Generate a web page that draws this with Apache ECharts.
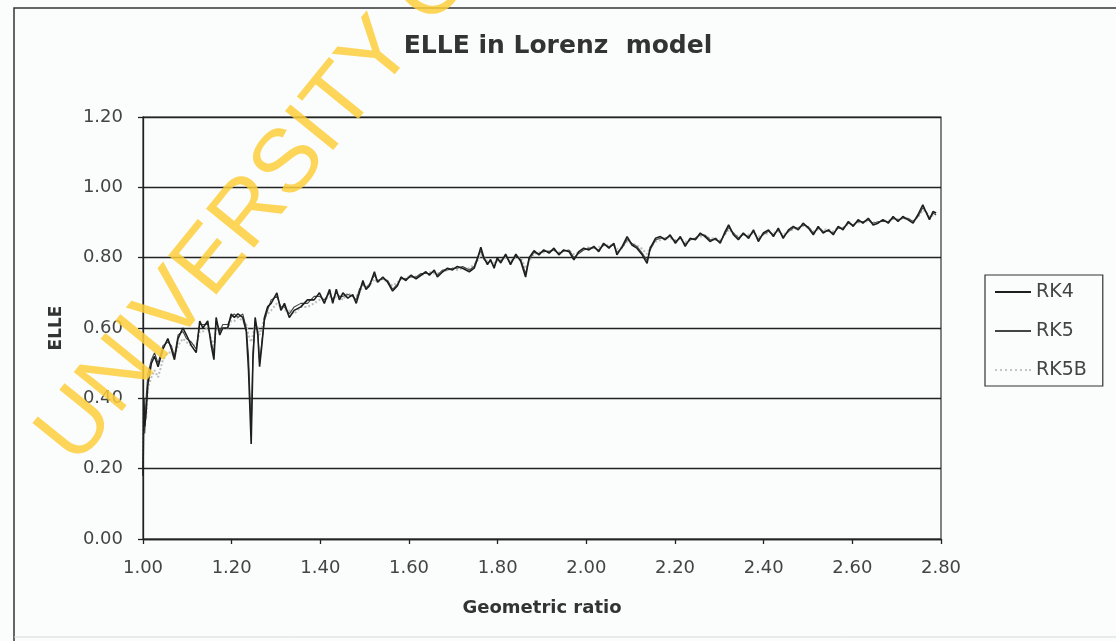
<!DOCTYPE html>
<html>
<head>
<meta charset="utf-8">
<script src="https://cdn.jsdelivr.net/npm/echarts@6/dist/echarts.min.js"></script>
<style>
html,body{margin:0;padding:0;background:#fbfdfc;}
#chart{width:1116px;height:641px;}
</style>
</head>
<body>
<div id="chart"></div>
<script>
const titleText = 'ELLE in Lorenz  model';
const xName = 'Geometric ratio';
const yName = 'ELLE';
const seriesNames = ['RK4', 'RK5', 'RK5B'];
const watermark = 'UNIVERSITY OF';

const ratio = [
  1.000, 1.002, 1.004, 1.007, 1.011, 1.019, 1.026, 1.034, 1.045, 1.056,
  1.064, 1.071, 1.079, 1.090, 1.098, 1.109, 1.120, 1.128, 1.135, 1.146,
  1.154, 1.160, 1.165, 1.173, 1.180, 1.191, 1.199, 1.206, 1.214, 1.225,
  1.233, 1.238, 1.244, 1.248, 1.253, 1.259, 1.263, 1.268, 1.274, 1.281,
  1.289, 1.302, 1.311, 1.319, 1.330, 1.341, 1.356, 1.371, 1.386, 1.398,
  1.409, 1.421, 1.428, 1.436, 1.443, 1.451, 1.462, 1.473, 1.481, 1.488,
  1.496, 1.503, 1.511, 1.522, 1.529, 1.541, 1.552, 1.563, 1.574, 1.582,
  1.593, 1.604, 1.616, 1.627, 1.638, 1.646, 1.657, 1.664, 1.676, 1.687,
  1.698, 1.709, 1.721, 1.736, 1.747, 1.754, 1.762, 1.769, 1.777, 1.784,
  1.792, 1.799, 1.807, 1.818, 1.829, 1.841, 1.852, 1.863, 1.871, 1.882,
  1.893, 1.904, 1.916, 1.927, 1.938, 1.949, 1.961, 1.972, 1.983, 1.994,
  2.006, 2.017, 2.028, 2.039, 2.051, 2.062, 2.069, 2.081, 2.092, 2.103,
  2.114, 2.126, 2.137, 2.144, 2.156, 2.167, 2.178, 2.189, 2.201, 2.212,
  2.223, 2.234, 2.246, 2.257, 2.268, 2.279, 2.291, 2.302, 2.313, 2.321,
  2.332, 2.343, 2.354, 2.366, 2.377, 2.388, 2.399, 2.411, 2.422, 2.433,
  2.444, 2.456, 2.467, 2.478, 2.489, 2.501, 2.512, 2.523, 2.534, 2.546,
  2.557, 2.568, 2.579, 2.591, 2.602, 2.613, 2.624, 2.636, 2.647, 2.658,
  2.669, 2.681, 2.692, 2.703, 2.714, 2.725, 2.737, 2.748, 2.759, 2.767,
  2.774, 2.782, 2.789
];

const rk4 = [
  0.18, 0.40, 0.32, 0.36, 0.44, 0.50, 0.52, 0.49, 0.54, 0.57,
  0.54, 0.51, 0.57, 0.60, 0.58, 0.55, 0.53, 0.62, 0.60, 0.62,
  0.55, 0.51, 0.63, 0.58, 0.60, 0.60, 0.64, 0.63, 0.64, 0.63,
  0.59, 0.48, 0.27, 0.51, 0.63, 0.58, 0.49, 0.55, 0.63, 0.66,
  0.67, 0.70, 0.65, 0.67, 0.63, 0.65, 0.66, 0.68, 0.68, 0.70,
  0.67, 0.71, 0.67, 0.71, 0.68, 0.70, 0.685, 0.695, 0.67, 0.70,
  0.735, 0.71, 0.72, 0.76, 0.73, 0.745, 0.73, 0.705, 0.72, 0.745,
  0.735, 0.75, 0.74, 0.75, 0.76, 0.75, 0.765, 0.745, 0.76, 0.77,
  0.765, 0.775, 0.77, 0.76, 0.77, 0.795, 0.83, 0.80, 0.78, 0.795,
  0.77, 0.80, 0.785, 0.81, 0.78, 0.81, 0.79, 0.745, 0.80, 0.82,
  0.808, 0.822, 0.813, 0.827, 0.808, 0.822, 0.817, 0.794, 0.817, 0.827,
  0.822, 0.832, 0.817, 0.841, 0.827, 0.841, 0.808, 0.832, 0.860, 0.836,
  0.827, 0.808, 0.784, 0.827, 0.855, 0.860, 0.851, 0.865, 0.841, 0.860,
  0.832, 0.855, 0.851, 0.870, 0.860, 0.846, 0.855, 0.841, 0.874, 0.893,
  0.865, 0.851, 0.870, 0.855, 0.879, 0.846, 0.870, 0.879, 0.860, 0.884,
  0.855, 0.879, 0.889, 0.879, 0.898, 0.884, 0.865, 0.889, 0.870, 0.879,
  0.865, 0.889, 0.879, 0.903, 0.889, 0.908, 0.898, 0.912, 0.893, 0.898,
  0.908, 0.898, 0.917, 0.903, 0.917, 0.908, 0.898, 0.922, 0.950, 0.927,
  0.908, 0.931, 0.927
];

const rk5 = [
  0.20, 0.38, 0.30, 0.40, 0.47, 0.51, 0.53, 0.50, 0.55, 0.56,
  0.55, 0.52, 0.58, 0.59, 0.57, 0.56, 0.54, 0.61, 0.61, 0.61,
  0.56, 0.53, 0.62, 0.59, 0.61, 0.61, 0.63, 0.64, 0.63, 0.64,
  0.60, 0.52, 0.31, 0.53, 0.62, 0.59, 0.50, 0.56, 0.62, 0.65,
  0.68, 0.69, 0.66, 0.66, 0.64, 0.66, 0.67, 0.67, 0.69, 0.69,
  0.68, 0.70, 0.68, 0.70, 0.69, 0.69, 0.695, 0.69, 0.68, 0.71,
  0.725, 0.715, 0.725, 0.75, 0.735, 0.74, 0.735, 0.71, 0.725, 0.74,
  0.74, 0.745, 0.745, 0.755, 0.755, 0.755, 0.76, 0.75, 0.765, 0.765,
  0.77, 0.77, 0.775, 0.765, 0.775, 0.80, 0.82, 0.795, 0.785, 0.79,
  0.775, 0.795, 0.79, 0.805, 0.785, 0.805, 0.795, 0.755, 0.795, 0.815,
  0.812, 0.818, 0.818, 0.822, 0.812, 0.818, 0.822, 0.800, 0.812, 0.822,
  0.827, 0.828, 0.822, 0.836, 0.832, 0.836, 0.815, 0.828, 0.852, 0.840,
  0.832, 0.813, 0.792, 0.822, 0.850, 0.855, 0.856, 0.860, 0.846, 0.856,
  0.838, 0.850, 0.856, 0.865, 0.864, 0.851, 0.851, 0.846, 0.868, 0.886,
  0.870, 0.856, 0.866, 0.860, 0.874, 0.852, 0.866, 0.875, 0.865, 0.879,
  0.860, 0.874, 0.885, 0.884, 0.893, 0.888, 0.870, 0.884, 0.875, 0.876,
  0.870, 0.884, 0.884, 0.898, 0.893, 0.903, 0.902, 0.907, 0.898, 0.902,
  0.904, 0.902, 0.912, 0.907, 0.913, 0.912, 0.903, 0.917, 0.942, 0.930,
  0.912, 0.926, 0.922
];

const rk5b = [
  0.21, 0.37, 0.38, 0.34, 0.43, 0.46, 0.48, 0.46, 0.51, 0.53,
  0.53, 0.52, 0.55, 0.57, 0.56, 0.55, 0.55, 0.59, 0.59, 0.60,
  0.57, 0.55, 0.60, 0.59, 0.60, 0.60, 0.62, 0.62, 0.63, 0.62,
  0.61, 0.58, 0.56, 0.58, 0.61, 0.60, 0.58, 0.60, 0.63, 0.64,
  0.65, 0.67, 0.66, 0.65, 0.65, 0.64, 0.66, 0.66, 0.67, 0.68,
  0.68, 0.69, 0.68, 0.69, 0.69, 0.68, 0.70, 0.69, 0.69, 0.70,
  0.72, 0.71, 0.72, 0.74, 0.73, 0.74, 0.73, 0.72, 0.73, 0.74,
  0.74, 0.75, 0.745, 0.75, 0.755, 0.76, 0.755, 0.755, 0.76, 0.765,
  0.77, 0.765, 0.77, 0.77, 0.78, 0.79, 0.81, 0.80, 0.79, 0.79,
  0.785, 0.79, 0.795, 0.80, 0.79, 0.80, 0.80, 0.77, 0.79, 0.81,
  0.815, 0.815, 0.82, 0.82, 0.815, 0.82, 0.82, 0.81, 0.815, 0.825,
  0.83, 0.825, 0.83, 0.835, 0.835, 0.835, 0.825, 0.83, 0.845, 0.84,
  0.835, 0.825, 0.81, 0.83, 0.845, 0.85, 0.855, 0.855, 0.85, 0.855,
  0.845, 0.85, 0.855, 0.86, 0.86, 0.855, 0.855, 0.85, 0.865, 0.88,
  0.87, 0.86, 0.865, 0.865, 0.87, 0.86, 0.865, 0.87, 0.87, 0.875,
  0.865, 0.875, 0.88, 0.885, 0.89, 0.885, 0.875, 0.88, 0.88, 0.88,
  0.875, 0.885, 0.885, 0.895, 0.895, 0.90, 0.90, 0.905, 0.90, 0.90,
  0.905, 0.905, 0.91, 0.91, 0.91, 0.91, 0.905, 0.915, 0.935, 0.93,
  0.915, 0.92, 0.92
];

const FONT = 'DejaVu Sans';
const LINE_ICON = 'path://M0,0H36V2H0Z';
const DOT_ICON = 'path://M0,0H2V2H0ZM5,0H7V2H5ZM10,0H12V2H10ZM15,0H17V2H15ZM20,0H22V2H20ZM25,0H27V2H25ZM30,0H32V2H30ZM34,0H36V2H34Z';

const chart = echarts.init(document.getElementById('chart'), null, {renderer: 'canvas'});

function pairs(ys) { return ratio.map((x, i) => [x, ys[i]]); }

chart.setOption({
  backgroundColor: '#fbfdfc',
  animation: false,
  title: {
    text: titleText,
    left: 'center',
    top: 29,
    textStyle: {fontFamily: FONT, fontSize: 25, fontWeight: 'bold', color: '#333'}
  },
  legend: {
    data: [
      {name: seriesNames[0], icon: LINE_ICON},
      {name: seriesNames[1], icon: LINE_ICON},
      {name: seriesNames[2], icon: DOT_ICON}
    ],
    orient: 'vertical',
    left: 985,
    top: 275,
    itemWidth: 36,
    itemHeight: 2,
    itemGap: 19,
    padding: [7, 16, 6, 10],
    borderColor: '#333',
    borderWidth: 1.2,
    textStyle: {fontFamily: FONT, fontSize: 19, color: '#444', lineHeight: 20}
  },
  grid: {
    left: 143, top: 117, width: 798, height: 422,
    show: true, borderColor: '#333', borderWidth: 1.2, backgroundColor: 'transparent'
  },
  xAxis: {
    type: 'value',
    min: 1.0, max: 2.8, interval: 0.2,
    name: xName,
    nameLocation: 'middle',
    nameGap: 60,
    nameTextStyle: {fontFamily: FONT, fontSize: 18, fontWeight: 'bold', color: '#333'},
    axisLine: {lineStyle: {color: '#222', width: 1.3}},
    axisTick: {show: true, length: 5, inside: false, lineStyle: {color: '#222', width: 1.3}},
    axisLabel: {fontFamily: FONT, fontSize: 18, color: '#444', margin: 20,
      formatter: v => v.toFixed(2)},
    splitLine: {show: false}
  },
  yAxis: {
    type: 'value',
    min: 0, max: 1.2, interval: 0.2,
    name: yName,
    nameLocation: 'middle',
    nameGap: 78,
    nameRotate: 90,
    nameTextStyle: {fontFamily: FONT, fontSize: 17, fontWeight: 'bold', color: '#333'},
    axisLine: {show: true, lineStyle: {color: '#222', width: 1.3}},
    axisTick: {show: true, length: 5, lineStyle: {color: '#222', width: 1.3}},
    axisLabel: {fontFamily: FONT, fontSize: 18, color: '#444', margin: 20,
      formatter: v => v.toFixed(2)},
    splitLine: {show: true, lineStyle: {color: '#222', width: 1.4}}
  },
  series: [
    {
      name: seriesNames[0], type: 'line', symbol: 'none', z: 4,
      data: pairs(rk4),
      lineStyle: {color: '#1e1e1e', width: 1.6},
      itemStyle: {color: '#1e1e1e'}
    },
    {
      name: seriesNames[1], type: 'line', symbol: 'none', z: 3,
      data: pairs(rk5),
      lineStyle: {color: '#444', width: 1.1},
      itemStyle: {color: '#444'}
    },
    {
      name: seriesNames[2], type: 'line', symbol: 'none', z: 2,
      data: pairs(rk5b),
      lineStyle: {color: '#bdbdbd', width: 2, type: 'dotted'},
      itemStyle: {color: '#c4c4c4'}
    }
  ],
  graphic: [
    {
      type: 'polyline', z: 0, silent: true,
      shape: {points: [[14, 641], [14, 8], [1116, 8]]},
      style: {stroke: '#333', lineWidth: 1.5, fill: null}
    },
    {
      type: 'line', z: 0, silent: true,
      shape: {x1: 14, y1: 637, x2: 1116, y2: 637},
      style: {stroke: '#d8d8d8', lineWidth: 1}
    },
    {
      type: 'text', z: 100, silent: true,
      x: 92, y: 480,
      rotation: 51 * Math.PI / 180,
      style: {
        text: watermark,
        fontFamily: 'Liberation Sans',
        fontSize: 90,
        fill: 'rgba(252,206,60,0.85)',
        align: 'left',
        verticalAlign: 'bottom'
      }
    }
  ]
});
</script>
</body>
</html>
